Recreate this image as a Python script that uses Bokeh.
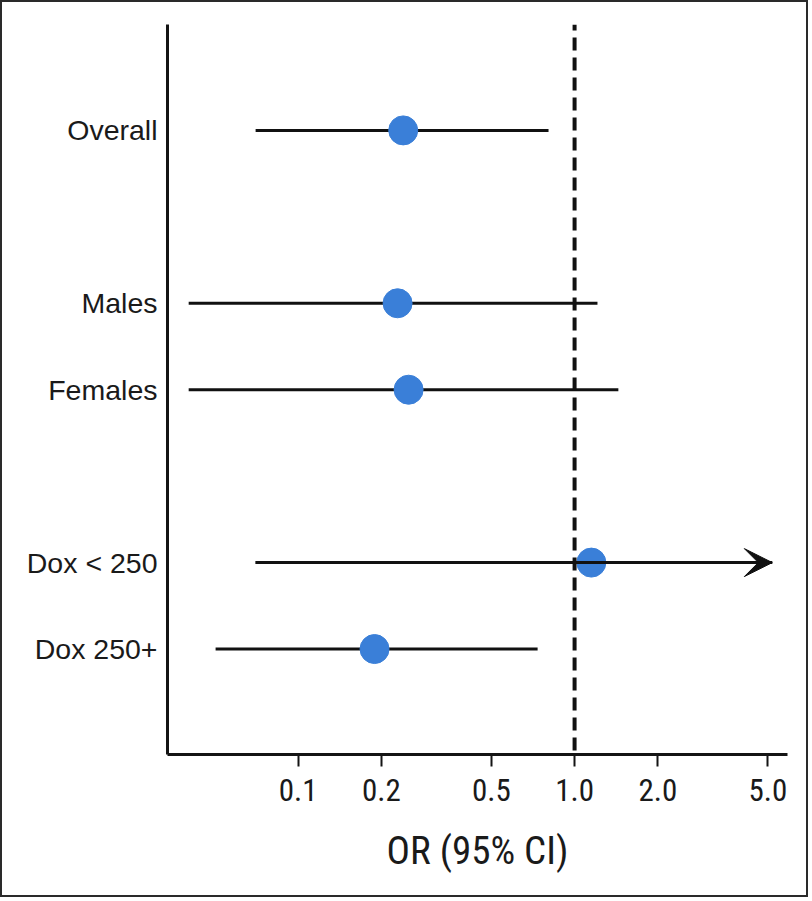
from bokeh.plotting import figure
from bokeh.models import Range1d, FixedTicker, Span, Arrow, VeeHead, ColumnDataSource
from bokeh.embed import file_html
from bokeh.resources import INLINE

# ---- data ----
labels = ["Overall", "Males", "Females", "Dox < 250", "Dox 250+"]
groups = [0, 1, 1, 2, 2]
odds_ratio = [0.240, 0.229, 0.251, 1.15, 0.189]
ci_low = [0.0702, 0.0402, 0.0402, 0.0702, 0.0503]
ci_high = [0.805, 1.21, 1.44, 5.19, 0.735]
ci_truncated = [False, False, False, True, False]
x_ticks = [0.1, 0.2, 0.5, 1.0, 2.0, 5.0]
x_tick_labels = ["0.1", "0.2", "0.5", "1.0", "2.0", "5.0"]
x_title = "OR (95% CI)"

# row positions: one slot per row plus one blank slot between groups
rows = [i + g for i, g in enumerate(groups)]

src = ColumnDataSource(dict(y=rows, label=labels, orv=odds_ratio, lo=ci_low, hi=ci_high))
trunc_idx = [i for i, t in enumerate(ci_truncated) if t]
src_trunc = ColumnDataSource(dict(y=[rows[i] for i in trunc_idx],
                                  lo=[ci_low[i] for i in trunc_idx],
                                  hi=[ci_high[i] for i in trunc_idx]))

W, H = 808, 897
p = figure(width=W, height=H, x_axis_type="log",
           x_range=Range1d(0.0337, 5.89),
           y_range=Range1d(rows[-1] + 1.22, rows[0] - 1.225),
           output_backend="svg", toolbar_location=None,
           min_border_left=165, min_border_right=23, min_border_top=22, min_border_bottom=145)
p.styles = {"border": "2px solid #2a2a2a"}
p.outline_line_color = None
p.grid.visible = False
p.background_fill_color = "white"
p.border_fill_color = "white"

narrow = "'Roboto Condensed', Roboto, sans-serif"

# x axis
xa = p.xaxis[0]
xa.ticker = FixedTicker(ticks=x_ticks)
xa.major_label_overrides = {t: s for t, s in zip(x_ticks, x_tick_labels)}
xa.axis_line_width = 3
xa.axis_line_color = "#141414"
xa.major_tick_line_width = 2
xa.major_tick_line_color = "#141414"
xa.major_tick_out = 12
xa.major_tick_in = 0
xa.minor_tick_line_color = None
xa.major_label_text_font = narrow
xa.major_label_text_font_size = "31px"
xa.major_label_text_color = "#1a1a1a"
xa.major_label_standoff = 12
xa.axis_label = x_title
xa.axis_label_text_font = narrow
xa.axis_label_text_font_size = "39px"
xa.axis_label_text_font_style = "normal"
xa.axis_label_text_color = "#1a1a1a"
xa.axis_label_standoff = 24

# y axis
ya = p.yaxis[0]
ya.ticker = FixedTicker(ticks=rows)
ya.major_label_overrides = {r: l for r, l in zip(rows, labels)}
ya.axis_line_width = 3
ya.axis_line_color = "#141414"
ya.major_tick_line_color = None
ya.minor_tick_line_color = None
ya.major_tick_out = 0
ya.major_tick_in = 0
ya.major_label_text_font = "'Liberation Sans', Arial, sans-serif"
ya.major_label_text_font_size = "28.5px"
ya.major_label_text_color = "#1a1a1a"
ya.major_label_standoff = 10

# CI lines
p.segment(x0="lo", y0="y", x1="hi", y1="y", source=src, line_width=3, line_color="#111111")
p.add_layout(Arrow(end=VeeHead(size=28, fill_color="#111111", line_color="#111111"),
                   x_start="lo", y_start="y", x_end="hi", y_end="y", source=src_trunc,
                   line_width=3, line_color="#111111"))

# reference line at OR = 1
p.add_layout(Span(location=1.0, dimension="height", line_color="#111111",
                  line_width=4, line_dash="13 7", line_dash_offset=7))

# point estimates
p.scatter(x="orv", y="y", source=src, size=29, fill_color="#3a7fd8", line_color="#3a7fd8")

open("out.html", "w").write(file_html(p, INLINE))
